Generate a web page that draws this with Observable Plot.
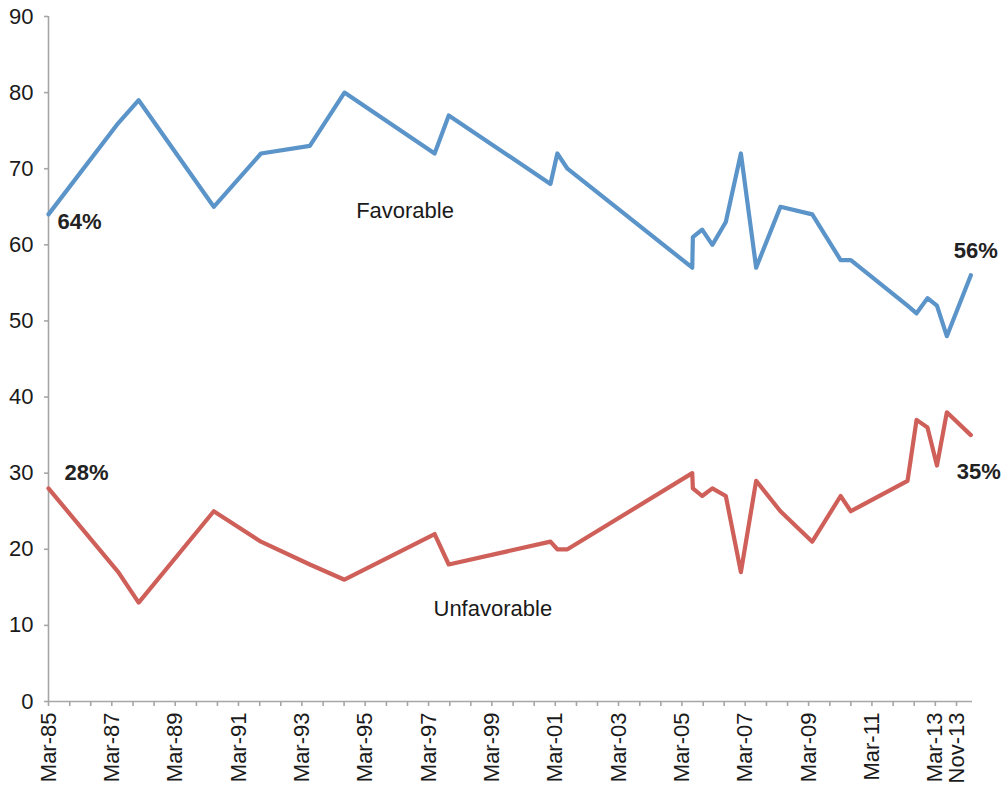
<!DOCTYPE html>
<html>
<head>
<meta charset="utf-8">
<script src="https://cdn.jsdelivr.net/npm/d3@7"></script>
<script src="https://cdn.jsdelivr.net/npm/@observablehq/plot@0.6"></script>
<style>
  html, body { margin: 0; padding: 0; background: #fff; }
</style>
</head>
<body>
<div id="chart"></div>
<script>
// ---- Data ----
const dates = [
  "1985-03-01", "1987-05-15", "1988-01-05", "1990-05-20", "1991-11-15",
  "1993-06-01", "1994-07-05", "1997-05-10", "1997-10-20", "2001-01-05",
  "2001-03-25", "2001-07-20", "2005-06-28", "2005-07-05", "2005-10-20",
  "2006-02-15", "2006-07-20", "2007-01-10", "2007-07-05", "2008-04-10",
  "2009-04-12", "2010-03-05", "2010-07-01", "2012-04-15", "2012-07-28",
  "2012-12-01", "2013-03-20", "2013-07-12", "2014-04-15"
];
const favorable = [
  64, 76, 79, 65, 72,
  73, 80, 72, 77, 68,
  72, 70, 57, 61, 62,
  60, 63, 72, 57, 65,
  64, 58, 58, 52, 51,
  53, 52, 48, 56
];
const unfavorable = [
  28, 17, 13, 25, 21,
  18, 16, 22, 18, 21,
  20, 20, 30, 28, 27,
  28, 27, 17, 29, 25,
  21, 27, 25, 29, 37,
  36, 31, 38, 35
];
const yTicks = [0, 10, 20, 30, 40, 50, 60, 70, 80, 90];
const xLabels = ["Mar-85","Mar-87","Mar-89","Mar-91","Mar-93","Mar-95","Mar-97","Mar-99",
                 "Mar-01","Mar-03","Mar-05","Mar-07","Mar-09","Mar-11","Mar-13","Nov-13"];
const xLabelDates = ["1985-03-01","1987-03-01","1989-03-01","1991-03-01","1993-03-01","1995-03-01",
                     "1997-03-01","1999-03-01","2001-03-01","2003-03-01","2005-03-01","2007-03-01",
                     "2009-03-01","2011-03-01","2013-03-01","2013-11-01"];
const xDomain = ["1985-03-01", "2014-05-04"];
const seriesNames = ["Favorable", "Unfavorable"];
const seriesNameDates = ["1996-06-03", "1999-03-12"];
const seriesNameValues = [64.5, 12.2];

// ---- Build table ----
const parse = d3.utcParse("%Y-%m-%d");
const table = dates.map((d, i) => ({date: parse(d), favorable: favorable[i], unfavorable: unfavorable[i]}));
const labelDates = xLabelDates.map(parse);
const labelMap = new Map(labelDates.map((d, i) => [+d, xLabels[i]]));
const domain = xDomain.map(parse);
// minor ticks every 8 months from Mar-85 through Nov-13
const minorTicks = d3.utcMonth.range(parse("1985-03-01"), parse("2013-11-02")).filter((d, i) => i % 8 === 0);
const nameTable = seriesNames.map((n, i) => ({name: n, date: parse(seriesNameDates[i]), value: seriesNameValues[i]}));

const first = table[0];
const last = table[table.length - 1];

const blue = "#5b94c9";
const red = "#cf5f59";
const axisGray = "#a6a6a6";
const ink = "#1a1a1a";
const font = "'Liberation Sans', Arial, Helvetica, sans-serif";

const chart = Plot.plot({
  width: 1001,
  height: 787,
  marginTop: 16,
  marginBottom: 86,
  marginLeft: 48,
  marginRight: 29,
  style: {fontFamily: font, background: "#fff", color: ink},
  x: {type: "utc", domain: domain},
  y: {domain: [0, 90]},
  marks: [
    Plot.ruleY([0], {stroke: axisGray, strokeWidth: 1.6}),
    Plot.ruleX([domain[0]], {y1: 0, y2: 90, stroke: axisGray, strokeWidth: 1.6}),
    Plot.axisY({ticks: yTicks, tickSize: 4, tickPadding: 11, stroke: axisGray, strokeWidth: 1.6, fill: ink, fontSize: 22, label: null}),
    Plot.axisX({ticks: minorTicks, tickSize: 5, stroke: axisGray, strokeWidth: 1.6, tickFormat: () => "", label: null}),
    Plot.axisX({ticks: labelDates, tickSize: 0, tickPadding: 11, tickRotate: -90, fill: ink, fontSize: 22,
                tickFormat: (d) => labelMap.get(+d), label: null}),
    Plot.lineY(table, {x: "date", y: "favorable", stroke: blue, strokeWidth: 4.2}),
    Plot.lineY(table, {x: "date", y: "unfavorable", stroke: red, strokeWidth: 4.2}),
    Plot.text(nameTable, {x: "date", y: "value", text: "name", fontSize: 22, fill: ink}),
    Plot.text([first], {x: "date", y: "favorable", text: (d) => d.favorable + "%", textAnchor: "start", dx: 9, dy: 8, fontSize: 22, fontWeight: "bold", fill: "#222"}),
    Plot.text([first], {x: "date", y: "unfavorable", text: (d) => d.unfavorable + "%", textAnchor: "start", dx: 16, dy: -15, fontSize: 22, fontWeight: "bold", fill: "#222"}),
    Plot.text([last], {x: "date", y: "favorable", text: (d) => d.favorable + "%", dx: 5, dy: -24, fontSize: 22, fontWeight: "bold", fill: "#222"}),
    Plot.text([last], {x: "date", y: "unfavorable", text: (d) => d.unfavorable + "%", dx: 8, dy: 37, fontSize: 22, fontWeight: "bold", fill: "#222"})
  ]
});
document.getElementById("chart").appendChild(chart);
</script>
</body>
</html>
